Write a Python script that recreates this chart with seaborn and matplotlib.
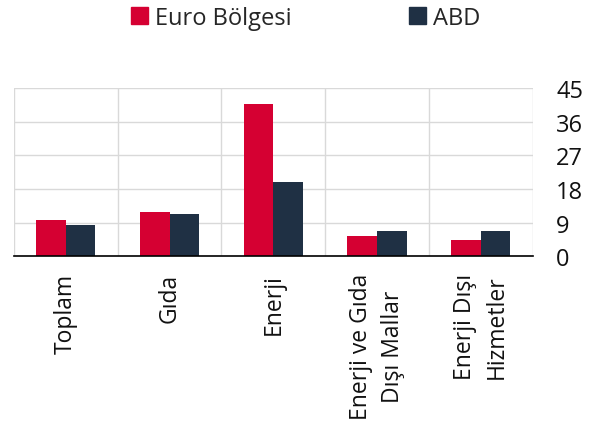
import matplotlib
matplotlib.use('Agg')
import matplotlib.pyplot as plt
from matplotlib.patches import Patch
import numpy as np
import pandas as pd
import seaborn as sns

categories = ['Toplam', 'Gıda', 'Enerji', 'Enerji ve Gıda\nDışı Mallar', 'Enerji Dışı\nHizmetler']
euro_values = [9.8, 11.8, 40.8, 5.5, 4.3]
abd_values = [8.2, 11.3, 19.8, 6.6, 6.7]
series_names = ['Euro Bölgesi', 'ABD']
colors = ['#D50032', '#1F3044']
y_ticks = [0, 9, 18, 27, 36, 45]

df = pd.DataFrame({
    'Kategori': categories * 2,
    'Seri': [series_names[0]] * 5 + [series_names[1]] * 5,
    'Deger': euro_values + abd_values,
})

sns.set_style('white')
plt.rcParams['font.family'] = ['Open Sans', 'DejaVu Sans']

fig = plt.figure(figsize=(5.96, 4.35), dpi=100)
ax = fig.add_axes([0.0235, 0.409, 0.870, 0.386])

sns.barplot(data=df, x='Kategori', y='Deger', hue='Seri', palette=colors,
            width=0.57, gap=0, legend=False, ax=ax, saturation=1,
            edgecolor='none')

ax.set_xlim(-0.5, 4.5)
ax.set_ylim(0, 45)
ax.set_yticks(y_ticks)
ax.yaxis.tick_right()
ax.tick_params(axis='y', length=0, pad=17, labelsize=17, colors='#111111')
for lbl in ax.get_yticklabels():
    lbl.set_horizontalalignment('left')

ax.set_xticks(range(5))
ax.set_xticklabels(categories, rotation=90, fontsize=16.5, color='#111111',
                   linespacing=1.45, multialignment='center')
ax.tick_params(axis='x', length=0, pad=12)
for lbl in ax.get_xticklabels():
    lbl.set_rotation_mode('anchor')
    lbl.set_horizontalalignment('right')
    lbl.set_verticalalignment('center')

ax.set_xticks(np.arange(-0.5, 5.0, 1.0), minor=True)
ax.grid(True, axis='y', which='major', color='#d9d9d9', linewidth=1)
ax.grid(True, axis='x', which='minor', color='#d9d9d9', linewidth=1)
ax.grid(False, axis='x', which='major')
ax.tick_params(axis='x', which='minor', length=0)
ax.set_axisbelow(True)

for s in ['top', 'left', 'right']:
    ax.spines[s].set_visible(False)
ax.spines['bottom'].set_color('black')
ax.spines['bottom'].set_linewidth(1.2)
ax.set_xlabel('')
ax.set_ylabel('')

handles = [Patch(color=c) for c in colors]
fig.legend(handles, series_names, loc='upper center', bbox_to_anchor=(0.513, 1.033),
           ncol=2, frameon=False, fontsize=17, handlelength=0.7, handleheight=0.7,
           handletextpad=0.3, columnspacing=5.0)

fig.savefig('out.png', dpi=100)
